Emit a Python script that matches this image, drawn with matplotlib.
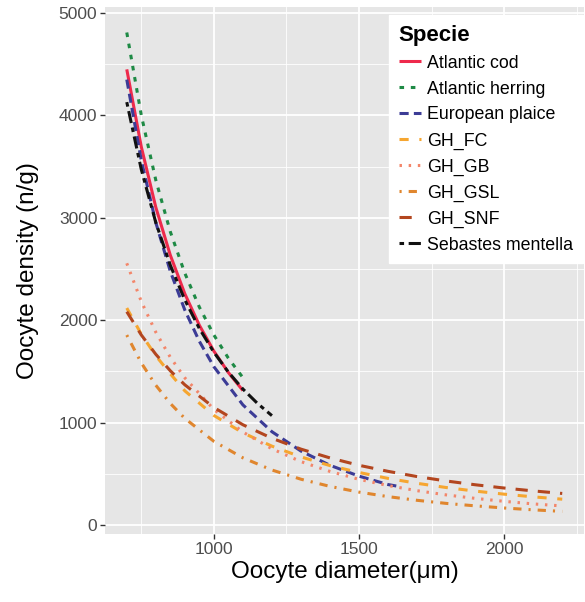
import matplotlib
matplotlib.use("Agg")
import matplotlib.pyplot as plt

plt.rcParams['font.family'] = ['Liberation Sans', 'DejaVu Sans']

species = ["Atlantic cod", "Atlantic herring", "European plaice", "GH_FC",
           "GH_GB", "GH_GSL", "GH_SNF", "Sebastes mentella"]

x_cod = [700, 750, 800, 850, 900, 950, 1000, 1050, 1100]
y_cod = [4450, 3694, 3103, 2635, 2258, 1951, 1698, 1489, 1313]

x_herring = [700, 750, 800, 850, 900, 950, 1000, 1050, 1100]
y_herring = [4810, 4002, 3368, 2864, 2459, 2128, 1856, 1629, 1439]

x_plaice = [700, 750, 800, 850, 900, 950, 1000, 1100, 1200, 1300, 1400, 1500, 1600, 1630]
y_plaice = [4350, 3561, 2954, 2477, 2099, 1794, 1546, 1173, 911, 722, 583, 477, 395, 380]

x_sebastes = [700, 750, 800, 850, 900, 950, 1000, 1050, 1100, 1150, 1200]
y_sebastes = [4130, 3473, 2954, 2537, 2198, 1919, 1687, 1493, 1328, 1188, 1068]

x_gh = [700, 750, 800, 850, 900, 1000, 1100, 1200, 1300, 1400, 1500, 1600,
        1700, 1800, 1900, 2000, 2100, 2200]
y_gh_fc = [2119, 1864, 1653, 1477, 1310, 1070, 900, 770, 665, 580, 513, 455,
           407, 366, 331, 301, 275, 252]
y_gh_gb = [2556, 2183, 1883, 1638, 1437, 1129, 908, 744, 619, 523, 446, 385,
           335, 294, 260, 231, 206, 186]
y_gh_gsl = [1855, 1583, 1365, 1187, 1041, 817, 656, 537, 447, 377, 321, 277,
            241, 211, 187, 166, 148, 133]
y_gh_snf = [2083, 1856, 1667, 1506, 1369, 1148, 979, 847, 741, 655, 583, 524,
            473, 430, 393, 361, 333, 308]

series = {
    "Atlantic cod": (x_cod, y_cod),
    "Atlantic herring": (x_herring, y_herring),
    "European plaice": (x_plaice, y_plaice),
    "GH_FC": (x_gh, y_gh_fc),
    "GH_GB": (x_gh, y_gh_gb),
    "GH_GSL": (x_gh, y_gh_gsl),
    "GH_SNF": (x_gh, y_gh_snf),
    "Sebastes mentella": (x_sebastes, y_sebastes),
}

colors = {
    "Atlantic cod": "#EE2A4C",
    "Atlantic herring": "#1E8A45",
    "European plaice": "#3C3C96",
    "GH_FC": "#F6A630",
    "GH_GB": "#F3866A",
    "GH_GSL": "#E0862E",
    "GH_SNF": "#B3461F",
    "Sebastes mentella": "#111111",
}
styles = {
    "Atlantic cod": "-",
    "Atlantic herring": (0, (1.5, 2.2)),
    "European plaice": (0, (3, 1.7)),
    "GH_FC": (0, (3, 3.5)),
    "GH_GB": (0, (0.8, 2.2)),
    "GH_GSL": (0, (0.7, 2.3, 2.7, 2.3)),
    "GH_SNF": (0, (4, 3.3)),
    "Sebastes mentella": (0, (1.5, 1.5, 4, 1.5)),
}

fig = plt.figure(figsize=(5.85, 6.02), dpi=100)
ax = fig.add_axes([105/585, 1-534/602, (584-105)/585, (534-7)/602])
ax.set_facecolor("#E6E6E6")
for s in ax.spines.values():
    s.set_visible(False)

for name in species:
    xs, ys = series[name]
    ax.plot(xs, ys, color=colors[name], linestyle=styles[name], lw=2.2,
            label=name, dash_capstyle='butt', solid_capstyle='butt')

ax.set_xlim(625, 2275)
ax.set_ylim(-88, 5059)
ax.set_xticks([1000, 1500, 2000])
ax.set_xticks([750, 1250, 1750, 2250], minor=True)
ax.set_yticks([0, 1000, 2000, 3000, 4000, 5000])
ax.set_yticks([500, 1500, 2500, 3500, 4500], minor=True)
ax.grid(which='major', color='white', lw=1.3)
ax.grid(which='minor', color='white', lw=0.6)
ax.set_axisbelow(True)
ax.tick_params(which='major', length=3.5, width=1.0, color='#333333',
               labelsize=12.5, labelcolor='#4D4D4D', pad=2)
ax.tick_params(which='minor', length=0)

ax.set_xlabel("Oocyte diameter(μm)", fontsize=17.5, labelpad=3)
ax.set_ylabel("Oocyte density (n/g)", fontsize=17.5, labelpad=14)

leg = ax.legend(loc='upper right', bbox_to_anchor=(1.0 - 1/479, 1.0 - 8/527),
                title="Specie", fontsize=12.8,
                title_fontproperties={'size': 16, 'weight': 'bold'},
                frameon=True, fancybox=False, handlelength=1.25,
                handletextpad=0.35, labelspacing=0.5, borderpad=0.55,
                borderaxespad=0.0, alignment='left')
leg.get_frame().set_facecolor('white')
leg.get_frame().set_edgecolor('white')
leg.get_frame().set_alpha(1.0)

fig.savefig("out.png", dpi=100)
